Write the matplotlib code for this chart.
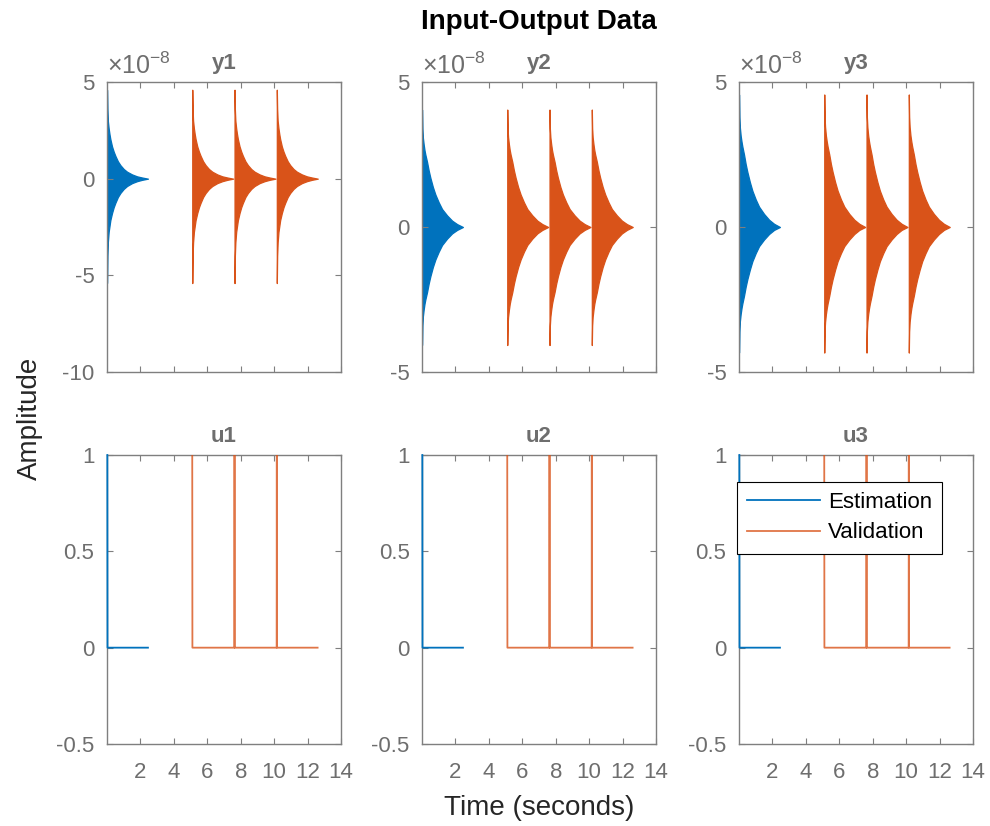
"""Input-Output data plot (estimation vs validation), MATLAB-style layout."""

import matplotlib
matplotlib.use("Agg")
import matplotlib.pyplot as plt

plt.rcParams["font.family"] = ["Liberation Sans", "DejaVu Sans"]
plt.rcParams["axes.unicode_minus"] = False
plt.rcParams["mathtext.fontset"] = "custom"
plt.rcParams["mathtext.rm"] = "Liberation Sans"

EST_COLOR = "#0072BD"
VAL_COLOR = "#D95319"
AX_GRAY = "#7f7f7f"
TXT_GRAY = "#6e6e6e"

output_names = ["y1", "y2", "y3"]
input_names = ["u1", "u2", "u3"]

# pulse start times [s]
est_starts = [0.0]
val_starts = [5.1, 7.63, 10.16]

# response envelope after each pulse: time since pulse [s], amplitude [x1e-8]
env_dt = [0.0, 0.02, 0.05, 0.1, 0.15, 0.2, 0.3, 0.4, 0.5, 0.65, 0.8,
          1.0, 1.2, 1.5, 1.8, 2.1, 2.45]
y1_upper = [4.6, 3.6, 3.0, 2.6, 2.3, 2.05, 1.67, 1.4, 1.18, 0.9, 0.7,
            0.5, 0.36, 0.22, 0.12, 0.06, 0.0]
y1_lower = [-5.4, -4.0, -3.3, -2.75, -2.45, -2.15, -1.78, -1.48, -1.25, -0.95, -0.74,
            -0.53, -0.38, -0.23, -0.13, -0.06, 0.0]
y2_upper = [4.05, 3.4, 3.1, 2.85, 2.65, 2.5, 2.25, 1.95, 1.7, 1.38, 1.12,
            0.85, 0.62, 0.4, 0.22, 0.1, 0.0]
y2_lower = [-4.07, -3.4, -3.1, -2.85, -2.65, -2.5, -2.25, -1.95, -1.7, -1.38, -1.12,
            -0.85, -0.62, -0.4, -0.22, -0.1, 0.0]
y3_upper = [4.57, 3.8, 3.45, 3.15, 2.95, 2.78, 2.5, 2.17, 1.9, 1.55, 1.25,
            0.95, 0.7, 0.45, 0.25, 0.11, 0.0]
y3_lower = [-4.33, -3.6, -3.27, -3.0, -2.8, -2.64, -2.37, -2.06, -1.8, -1.47, -1.18,
            -0.9, -0.66, -0.43, -0.24, -0.1, 0.0]

# input signals (same on all three channels)
u_est_t = [0.02, 0.03, 2.45]
u_est = [1.0, 0.0, 0.0]
u_val_t = [5.1, 5.11, 7.62, 7.63, 7.64, 10.15, 10.16, 10.17, 12.6]
u_val = [1.0, 0.0, 0.0, 1.0, 0.0, 0.0, 1.0, 0.0, 0.0]

y_limits = [(-10, 5), (-5, 5), (-5, 5)]
y_ticks = [[-10, -5, 0, 5], [-5, 0, 5], [-5, 0, 5]]
u_ticks = [-0.5, 0, 0.5, 1]
u_ticklabels = ["-0.5", "0", "0.5", "1"]
x_ticks = [2, 4, 6, 8, 10, 12, 14]

envelopes = [(y1_upper, y1_lower), (y2_upper, y2_lower), (y3_upper, y3_lower)]

W, H = 990, 826
fig = plt.figure(figsize=(W / 100, H / 100), dpi=100)

col_left = [107, 422, 739]
ax_w = 234
rows = [(82, 372), (455, 744)]


def make_axes(left, top, bottom):
    ax = fig.add_axes([left / W, 1 - bottom / H, ax_w / W, (bottom - top) / H])
    ax.set_xlim(0, 14)
    ax.set_xticks(x_ticks)
    ax.tick_params(direction="in", length=4, width=0.8, colors=AX_GRAY,
                   labelcolor=TXT_GRAY, labelsize=16, top=True, right=True)
    ax.tick_params(axis="x", pad=13)
    ax.tick_params(axis="y", pad=9)
    for s in ax.spines.values():
        s.set_color(AX_GRAY)
        s.set_linewidth(1.0)
    return ax


def draw_pulses(ax, starts, upper, lower, color):
    for t0 in starts:
        t = [t0 + d for d in env_dt]
        ax.fill_between(t, lower, upper, color=color, lw=0.9, edgecolor=color)


for i in range(3):
    ax = make_axes(col_left[i], *rows[0])
    upper, lower = envelopes[i]
    draw_pulses(ax, est_starts, upper, lower, EST_COLOR)
    draw_pulses(ax, val_starts, upper, lower, VAL_COLOR)
    ax.set_ylim(*y_limits[i])
    ax.set_yticks(y_ticks[i])
    ax.tick_params(labelbottom=False)
    ax.set_title(output_names[i], fontsize=16, fontweight="bold",
                 color=TXT_GRAY, pad=9)
    ax.text(0.0, 1.012, r"$\times$10$^{\mathregular{-8}}$", transform=ax.transAxes,
            fontsize=18, color=TXT_GRAY, ha="left", va="bottom")

    bx = make_axes(col_left[i], *rows[1])
    bx.plot(u_est_t, u_est, color=EST_COLOR, lw=1.3, label="Estimation",
            zorder=3, clip_on=False)
    bx.plot(u_val_t, u_val, color=VAL_COLOR, lw=1.3, alpha=0.8,
            label="Validation", zorder=3)
    bx.set_ylim(-0.5, 1)
    bx.set_yticks(u_ticks)
    bx.set_yticklabels(u_ticklabels)
    bx.set_title(input_names[i], fontsize=16, fontweight="bold",
                 color=TXT_GRAY, pad=9)
    if i == 2:
        leg = bx.legend(loc="center", bbox_to_anchor=(839.5 / W, 1 - 517.5 / H),
                        bbox_transform=fig.transFigure, fontsize=16,
                        fancybox=False, framealpha=1, edgecolor="black",
                        handlelength=3.3, borderpad=0.45, labelspacing=0.45,
                        handletextpad=0.35, borderaxespad=0)
        leg.get_frame().set_linewidth(0.8)
        leg.set_zorder(5)

fig.text(539 / W, 1 - 22 / H, "Input-Output Data", ha="center", va="center",
         fontsize=20, fontweight="bold", color="black")
fig.text(30 / W, 1 - 418 / H, "Amplitude", rotation=90, ha="center",
         va="center", fontsize=20, color="#262626")
fig.text(539 / W, 1 - 808 / H, "Time (seconds)", ha="center", va="center",
         fontsize=20, color="#262626")

fig.savefig("out.png", dpi=100)
